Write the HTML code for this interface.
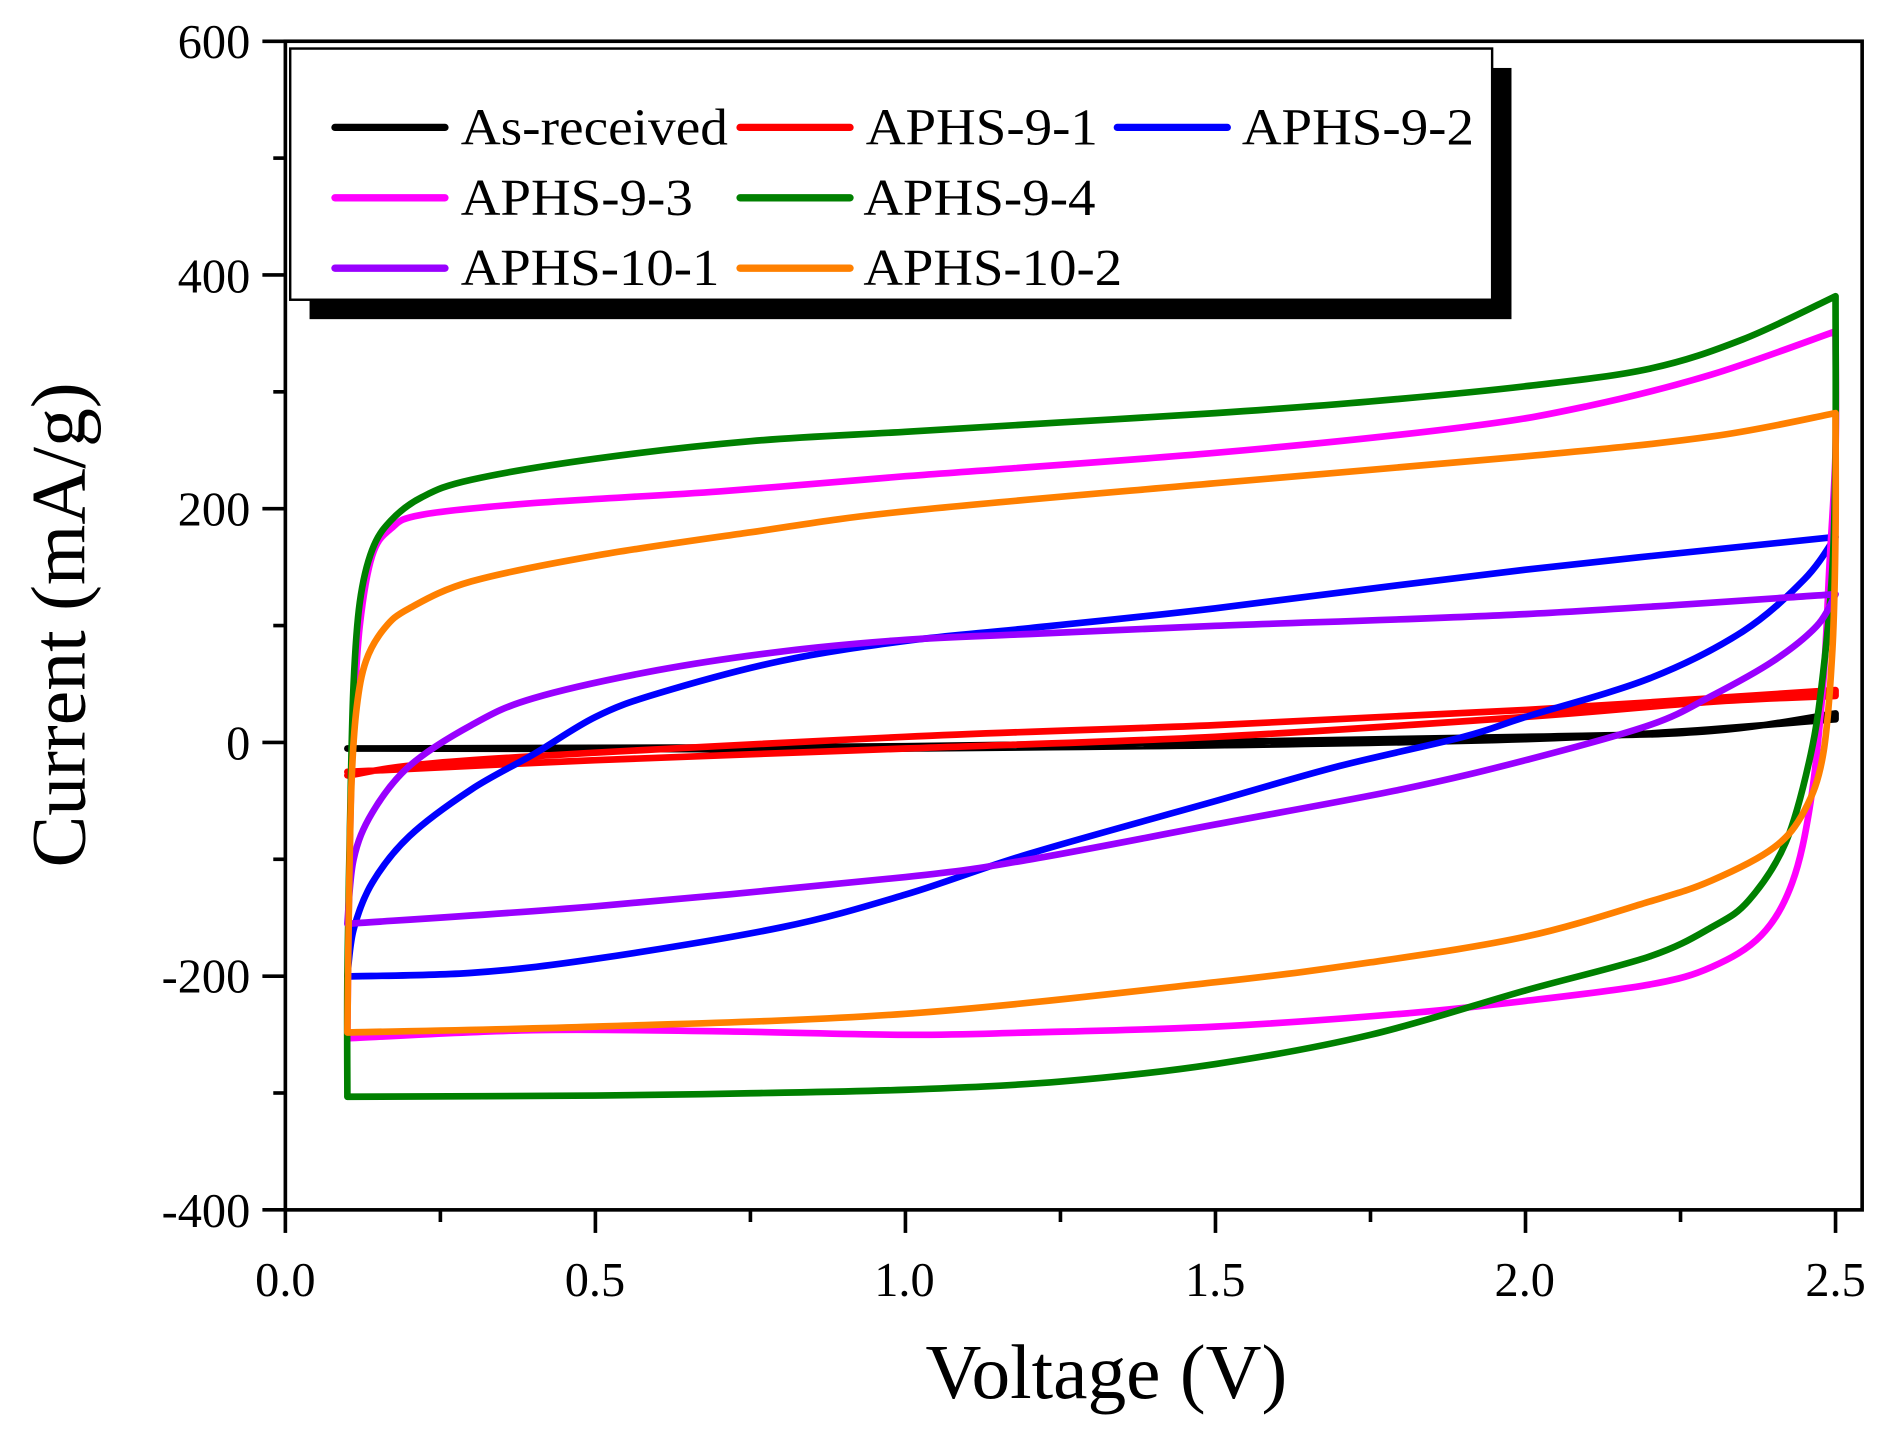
<!DOCTYPE html>
<html><head><meta charset="utf-8"><style>html,body{margin:0;padding:0;background:#fff}svg{display:block}</style></head>
<body>
<svg id="s" width="1896" height="1438" viewBox="0 0 1568 1185" preserveAspectRatio="none" xmlns="http://www.w3.org/2000/svg" font-family="Liberation Serif, serif">
<rect width="1568" height="1185" fill="#fff"/>
<g id="curves" fill="none" stroke-width="5.5" stroke-linejoin="round" stroke-linecap="round"></g>
<rect x="236" y="34" width="1304" height="963" fill="none" stroke="#000" stroke-width="3"/>
<g id="ticks" stroke="#000" stroke-width="3"></g>
<g font-size="40" text-anchor="end">
<text x="207" y="48">600</text><text x="207" y="241">400</text><text x="207" y="433">200</text>
<text x="207" y="626">0</text><text x="207" y="818">-200</text><text x="207" y="1011">-400</text>
</g>
<g font-size="40" text-anchor="middle">
<text x="236" y="1068">0.0</text><text x="492" y="1068">0.5</text><text x="748" y="1068">1.0</text>
<text x="1005" y="1068">1.5</text><text x="1261" y="1068">2.0</text><text x="1518" y="1068">2.5</text>
</g>
<text x="915" y="1152" font-size="64" text-anchor="middle">Voltage (V)</text>
<text transform="translate(70,515) rotate(-90)" font-size="64" text-anchor="middle">Current (mA/g)</text>
<rect x="256" y="56" width="994" height="207" fill="#000"/>
<rect x="240" y="40" width="994" height="207" fill="#fff" stroke="#000" stroke-width="2"/>
<g stroke-width="6" stroke-linecap="round">
<line x1="277" y1="105" x2="368" y2="105" stroke="#000"/>
<line x1="612" y1="105" x2="703" y2="105" stroke="#f00"/>
<line x1="924" y1="105" x2="1015" y2="105" stroke="#00f"/>
<line x1="277" y1="163" x2="368" y2="163" stroke="#f0f"/>
<line x1="612" y1="163" x2="703" y2="163" stroke="#008000"/>
<line x1="277" y1="221" x2="368" y2="221" stroke="#90f"/>
<line x1="612" y1="221" x2="703" y2="221" stroke="#ff8000"/>
</g>
<g font-size="43">
<text x="381" y="119" textLength="221" lengthAdjust="spacingAndGlyphs">As-received</text><text x="716" y="119" textLength="192" lengthAdjust="spacingAndGlyphs">APHS-9-1</text><text x="1027" y="119" textLength="192" lengthAdjust="spacingAndGlyphs">APHS-9-2</text>
<text x="381" y="177" textLength="192" lengthAdjust="spacingAndGlyphs">APHS-9-3</text><text x="714" y="177" textLength="192" lengthAdjust="spacingAndGlyphs">APHS-9-4</text>
<text x="381" y="235" textLength="214" lengthAdjust="spacingAndGlyphs">APHS-10-1</text><text x="714" y="235" textLength="214" lengthAdjust="spacingAndGlyphs">APHS-10-2</text>
</g>
</svg>
<script>
var X=v=>236+512.8*v, Y=i=>612-0.963*i;
var t=document.getElementById('ticks'),h='';
for(var k=0;k<=10;k++){var y=34+k*96.3;h+='<line x1="'+(k%2?226:217)+'" y1="'+y+'" x2="236" y2="'+y+'"/>';}
for(var k=0;k<=10;k++){var x=236+k*128.2;h+='<line x1="'+x+'" y1="997" x2="'+x+'" y2="'+(k%2?1007:1016)+'"/>';}
t.innerHTML=h;
function seg(pts,first){var p=pts.map(a=>[X(a[0]),Y(a[1])]);var d=(first?'M':'L')+p[0][0]+','+p[0][1];
for(var i=0;i<p.length-1;i++){var p0=p[i-1]||p[i],p1=p[i],p2=p[i+1],p3=p[i+2]||p2;
d+=' C'+(p1[0]+(p2[0]-p0[0])/6)+','+(p1[1]+(p2[1]-p0[1])/6)+' '+(p2[0]-(p3[0]-p1[0])/6)+','+(p2[1]-(p3[1]-p1[1])/6)+' '+p2[0]+','+p2[1];}
return d;}
function path(br){return br.map((b,i)=>seg(b,i==0)).join(' ');}
var S=[
['#000',[[[0.1,-5],[1.0,-3],[2.0,5],[2.3,10],[2.5,25]],[[2.5,20],[2.0,3],[1.0,-5],[0.1,-5]]]],
['#f00',[[[0.1,-28],[0.3,-15],[1.0,5],[1.5,15],[2.0,28],[2.5,45]],[[2.5,40],[2.3,35],[2.0,22],[1.5,5],[1.0,-5],[0.5,-15],[0.1,-25]]]],
['#00f',[[[0.1,-200],[0.11,-160],[0.14,-120],[0.2,-80],[0.3,-40],[0.4,-10],[0.5,22],[0.6,42],[0.8,70],[1.0,87],[1.2,98],[1.5,115],[2.0,148],[2.5,176]],[[2.5,176],[2.45,140],[2.35,95],[2.2,55],[2.0,22],[1.9,5],[1.7,-20],[1.5,-50],[1.2,-95],[1.0,-130],[0.8,-158],[0.5,-185],[0.3,-197],[0.1,-200]]]],
['#f0f',[[[0.1,-253],[0.102,-150],[0.105,-60],[0.11,20],[0.12,100],[0.14,160],[0.17,183],[0.22,195],[0.4,205],[0.7,215],[1.0,228],[1.5,248],[1.9,270],[2.1,288],[2.3,315],[2.5,352]],[[2.5,352],[2.5,250],[2.49,150],[2.48,50],[2.46,-50],[2.43,-120],[2.38,-165],[2.3,-192],[2.2,-207],[2.0,-221],[1.8,-232],[1.5,-243],[1.2,-248],[1.0,-250],[0.7,-247],[0.4,-246],[0.1,-253]]]],
['#008000',[[[0.1,-303],[0.1,-200],[0.105,-50],[0.11,50],[0.12,120],[0.14,165],[0.17,190],[0.22,210],[0.3,225],[0.5,243],[0.75,258],[1.0,266],[1.25,274],[1.5,282],[1.75,292],[2.0,305],[2.2,320],[2.35,345],[2.5,382]],[[2.5,382],[2.5,250],[2.495,150],[2.48,60],[2.46,-10],[2.42,-85],[2.36,-135],[2.3,-158],[2.2,-183],[2.0,-212],[1.75,-250],[1.5,-275],[1.25,-290],[1.0,-297],[0.75,-300],[0.5,-302],[0.1,-303]]]],
['#90f',[[[0.1,-155],[0.11,-100],[0.14,-60],[0.2,-20],[0.3,15],[0.4,38],[0.6,62],[0.8,78],[1.0,88],[1.2,93],[1.5,100],[2.0,110],[2.5,127]],[[2.5,127],[2.47,100],[2.4,70],[2.3,40],[2.2,15],[2.0,-15],[1.8,-40],[1.5,-70],[1.2,-100],[1.0,-115],[0.5,-140],[0.1,-155]]]],
['#ff8000',[[[0.1,-248],[0.103,-120],[0.107,-30],[0.115,30],[0.13,70],[0.16,98],[0.2,115],[0.3,138],[0.5,160],[0.75,180],[1.0,198],[1.5,222],[2.0,245],[2.3,262],[2.5,282]],[[2.5,282],[2.5,180],[2.495,80],[2.48,-10],[2.45,-58],[2.4,-90],[2.3,-118],[2.2,-136],[2.0,-166],[1.75,-188],[1.5,-205],[1.0,-232],[0.5,-243],[0.1,-248]]]]
];
var g=document.getElementById('curves'),o='';
S.forEach(s=>{o+='<path stroke="'+s[0]+'" d="'+path(s[1])+'"/>';});
g.innerHTML=o;
</script>
</body></html>
